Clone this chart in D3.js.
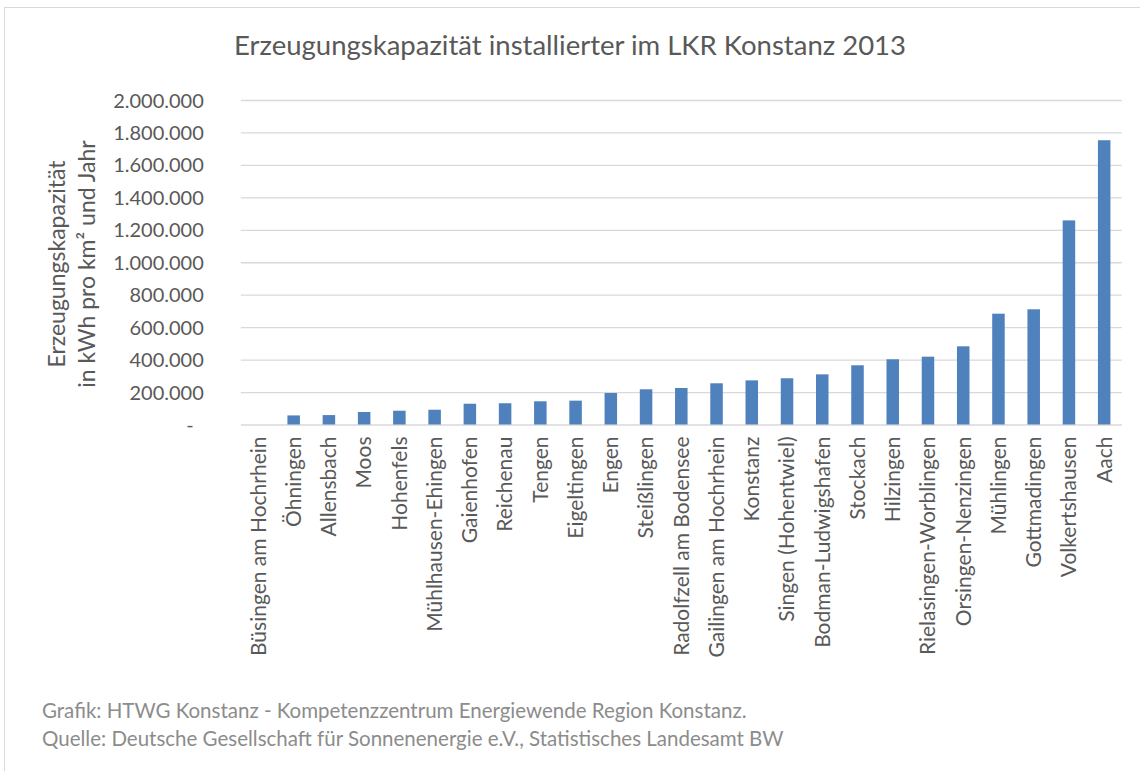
<!DOCTYPE html>
<html><head><meta charset="utf-8">
<script src="https://cdn.jsdelivr.net/npm/d3@7"></script>
<style>body{margin:0;background:#fff}svg{display:block}text{font-family:Lato,"Open Sans",sans-serif}</style>
</head><body>
<script>
const categories = ["Büsingen am Hochrhein","Öhningen","Allensbach","Moos","Hohenfels","Mühlhausen-Ehingen","Gaienhofen","Reichenau","Tengen","Eigeltingen","Engen","Steißlingen","Radolfzell am Bodensee","Gailingen am Hochrhein","Konstanz","Singen (Hohentwiel)","Bodman-Ludwigshafen","Stockach","Hilzingen","Rielasingen-Worblingen","Orsingen-Nenzingen","Mühlingen","Gottmadingen","Volkertshausen","Aach"];
const values = [0,56000,58000,77000,85000,91000,128000,131000,143000,147000,194000,217000,225000,254000,272000,285000,309000,365000,402000,418000,482000,683000,710000,1258000,1752000];
const tickValues = [0,200000,400000,600000,800000,1000000,1200000,1400000,1600000,1800000,2000000];
const title = "Erzeugungskapazität installierter im LKR Konstanz 2013";
const yTitle = ["Erzeugungskapazität","in kWh pro km² und Jahr"];
const footer = ["Grafik: HTWG Konstanz - Kompetenzzentrum Energiewende Region Konstanz.","Quelle: Deutsche Gesellschaft für Sonnenenergie e.V., Statistisches Landesamt BW"];

const W=1140,H=771;
const svg=d3.select("body").append("svg").attr("width",W).attr("height",H);
svg.append("rect").attr("x",4.5).attr("y",7.5).attr("width",W+20).attr("height",H+20).attr("fill","#fff").attr("stroke","#d9d9d9");

const x=d3.scaleBand().domain(categories).range([240.8,1121.8]).paddingInner(0.645).paddingOuter(0.3225);
const y=d3.scaleLinear().domain([0,2000000]).range([424.5,100]);

const fmt=v=> v===0?"-":d3.format(",")(v).replace(/,/g,".");
const gy=svg.append("g").attr("transform","translate(240.8,0)")
  .call(d3.axisLeft(y).tickValues(tickValues).tickSize(-881).tickFormat(fmt).tickPadding(37));
gy.select(".domain").remove();
gy.selectAll(".tick line").attr("stroke","#d9d9d9").attr("stroke-width",1.3);
gy.selectAll(".tick text").attr("fill","#595959").style("font-size","20px").attr("dy","0.35em");
gy.selectAll(".tick").filter(d=>d===0).select("text").attr("dx","-10");

svg.selectAll("rect.bar").data(values).join("rect").attr("class","bar")
  .attr("x",(d,i)=>x(categories[i])).attr("width",x.bandwidth())
  .attr("y",d=>y(d)).attr("height",d=>y(0)-y(d)).attr("fill","#4f81bd");

const gx=svg.append("g").attr("transform","translate(0,424.5)").call(d3.axisBottom(x).tickSize(0).tickPadding(0));
gx.select(".domain").remove();
gx.selectAll(".tick text").attr("fill","#595959").style("font-size","21px")
  .attr("transform","rotate(-90)").attr("text-anchor","end").attr("x",-12).attr("y",0).attr("dy","0.35em");

svg.append("text").attr("x",570).attr("y",55).attr("text-anchor","middle").attr("fill","#595959")
  .style("font-size","27.5px").text(title);

yTitle.forEach((t,i)=>{
  svg.append("text").attr("transform",`translate(${57+i*30},264) rotate(-90)`).attr("text-anchor","middle")
    .attr("dy","0.35em").attr("fill","#595959").style("font-size","23px").text(t);
});

footer.forEach((t,i)=>{
  svg.append("text").attr("x",42).attr("y",718+i*28).attr("fill","#8c8c8c").style("font-size","20.5px").text(t);
});
</script>
</body></html>
